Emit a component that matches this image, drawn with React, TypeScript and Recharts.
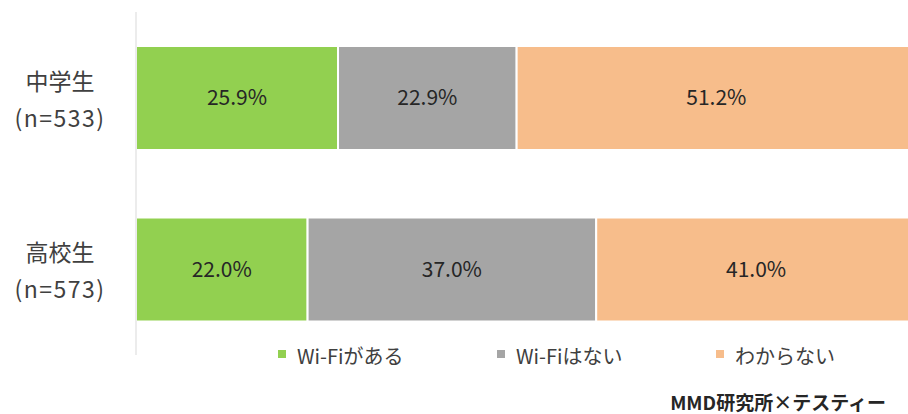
import { BarChart, Bar, XAxis, YAxis, LabelList } from "recharts";

const groups = ["中学生", "高校生"];
const sampleSizes = ["(n=533)", "(n=573)"];
const hasWifi = [25.9, 22.0];
const noWifi = [22.9, 37.0];
const unknown = [51.2, 41.0];

const seriesNames = ["Wi-Fiがある", "Wi-Fiはない", "わからない"];
const COLORS = ["#92d050", "#a5a5a5", "#f7bd8b"];
const FONT = "'Noto Sans CJK JP', 'Noto Sans', sans-serif";

const data = groups.map((g, i) => ({
  name: g,
  a: hasWifi[i],
  b: noWifi[i],
  c: unknown[i],
}));

function GroupTick(props: any) {
  const { y, payload, index } = props;
  return (
    <g>
      <text x={60} y={y - 8} textAnchor="middle" fontSize={23} fill="#404040" fontFamily={FONT}>{payload.value}</text>
      <text x={60} y={y + 29} textAnchor="middle" fontSize={23} letterSpacing={1.5} fill="#404040" fontFamily={FONT}>{sampleSizes[index]}</text>
    </g>
  );
}

const legendX = [278, 497, 716];

const fmt = (v: any) => `${Number(v).toFixed(1)}%`;

export default function App() {
  return (
    <div style={{ position: "absolute", left: 0, top: 0, width: 908, height: 414, background: "#fff", overflow: "hidden" }}>
      {/* the source chart's plot runs a little past the right edge */}
      <BarChart width={916} height={414} data={data} layout="vertical" barCategoryGap={34}
        margin={{ top: 12, right: 0, bottom: 59, left: 0 }}>
        <XAxis type="number" domain={[0, 100]} hide />
        <YAxis type="category" dataKey="name" width={136} axisLine={{ stroke: "#d9d9d9" }} tickLine={false} tick={<GroupTick />} />
        {(["a", "b", "c"] as const).map((k, i) => (
          <Bar key={k} dataKey={k} name={seriesNames[i]} stackId="s" fill={COLORS[i]} stroke="#fff" strokeWidth={2} isAnimationActive={false}>
            <LabelList dataKey={k} position="center" formatter={fmt} fill="#262626" fontSize={21} fontFamily={FONT} />
          </Bar>
        ))}
      </BarChart>
      <svg width={908} height={79} style={{ position: "absolute", left: 0, top: 335 }}>
        {seriesNames.map((s, i) => (
          <g key={s}>
            <rect x={legendX[i]} y={15} width={8} height={8} fill={COLORS[i]} />
            <text x={legendX[i] + 19} y={29} fontSize={20} fill="#404040" fontFamily={FONT}>{s}</text>
          </g>
        ))}
        <text x={886} y={75} textAnchor="end" fontSize={19} fontWeight="bold" fill="#262626" fontFamily={FONT}>MMD研究所×テスティー</text>
      </svg>
    </div>
  );
}
